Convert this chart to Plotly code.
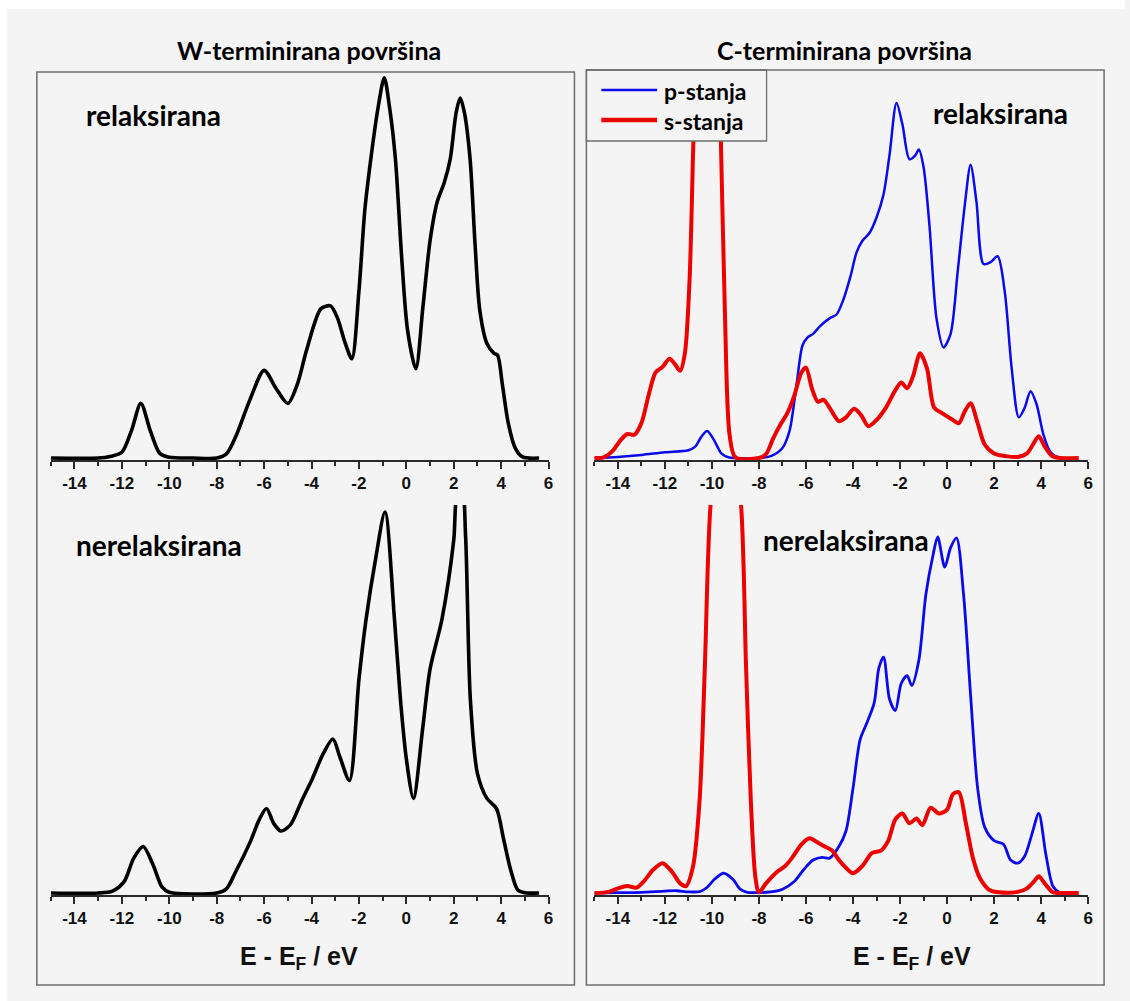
import plotly.graph_objects as go

W, H = 1130, 1001
BG = "#f4f4f4"

# ---------------- data (arbitrary DOS units) ----------------
# W-terminated, relaxed (total DOS)
w_rel_x = [-15, -13, -12.5, -12, -11.6, -11.2, -10.8, -10.4, -10, -9, -8, -7.6, -7.2, -6.6, -6.0, -5.5,
           -5.0, -4.6, -4.2, -3.6, -3.2, -2.9, -2.6, -2.3, -2.0, -1.75, -1.5, -1.2, -0.93, -0.7, -0.46,
           -0.2, 0.05, 0.4, 0.7, 1.0, 1.3, 1.6, 1.85, 2.1, 2.27, 2.45, 2.69, 2.9, 3.1, 3.4, 3.7, 3.85,
           4.05, 4.3, 4.6, 4.9, 5.6]
w_rel_y = [0, 0, 0.04, 0.15, 0.7, 1.41, 0.7, 0.12, 0.02, 0, 0, 0.1, 0.55, 1.5, 2.26, 1.8,
           1.41, 1.9, 2.8, 3.85, 3.92, 3.6, 3.0, 2.56, 4.3, 6.4, 7.7, 9.0, 9.8, 9.0, 7.7,
           5.2, 3.3, 2.3, 3.9, 5.6, 6.6, 7.1, 7.7, 8.9, 9.28, 8.9, 7.7, 5.5, 3.8, 2.95, 2.7, 2.65,
           1.9, 0.9, 0.25, 0.03, 0]

# W-terminated, unrelaxed
w_unr_x = [-15, -13, -12.4, -11.9, -11.5, -11.1, -10.7, -10.3, -10, -8, -7.6, -7.2, -6.6, -6.2, -5.9,
           -5.6, -5.3, -4.9, -4.4, -4.0, -3.5, -3.1, -2.8, -2.4, -2.0, -1.7, -1.3, -0.9, -0.5, -0.25,
           0.0, 0.3, 0.7, 1.0, 1.5, 2.0, 2.15, 2.35, 2.5, 2.7, 3.0, 3.4, 3.8, 4.1, 4.4, 4.7, 5.0, 5.6]
w_unr_y = [0, 0, 0.05, 0.3, 0.9, 1.2, 0.75, 0.15, 0.02, 0, 0.1, 0.55, 1.3, 1.9, 2.18,
           1.8, 1.6, 1.75, 2.4, 2.9, 3.6, 3.97, 3.5, 2.9, 5.5, 7.05, 8.6, 9.82, 7.05, 5.0,
           3.46, 2.44, 4.3, 5.77, 7.05, 9.1, 10.3, 10.4, 9.2, 5.0, 3.08, 2.44, 2.18, 1.4, 0.6, 0.08, 0.01, 0]

# C-terminated, relaxed
c_rel_p_x = [-15, -14, -13, -12, -11, -10.7, -10.45, -10.2, -9.9, -9.6, -9.3, -8, -7.5, -7.0, -6.7,
             -6.4, -6.15, -5.95, -5.7, -5.4, -5.0, -4.7, -4.4, -4.1, -3.85, -3.6, -3.3, -3.0, -2.7,
             -2.45, -2.15, -1.9, -1.6, -1.35, -1.2, -1.0, -0.75, -0.45, -0.15, 0.15, 0.45, 0.75, 1.0,
             1.25, 1.55, 1.85, 2.15, 2.45, 2.75, 3.05, 3.3, 3.55, 3.8, 4.1, 4.4, 4.7, 5.0]
c_rel_p_y = [0, 0.03, 0.08, 0.15, 0.2, 0.3, 0.55, 0.7, 0.45, 0.12, 0.02, 0, 0.05, 0.26, 0.7,
             1.9, 2.9, 3.1, 3.2, 3.4, 3.6, 3.7, 4.1, 4.7, 5.3, 5.6, 5.8, 6.2, 6.8,
             7.8, 9.15, 8.6, 7.7, 7.8, 7.95, 7.5, 6.0, 3.6, 2.85, 3.2, 4.8, 6.5, 7.56,
             6.6, 5.0, 5.05, 5.2, 4.3, 2.3, 1.05, 1.3, 1.72, 1.4, 0.6, 0.15, 0.02, 0]
c_rel_s_x = [-15, -14.6, -14.2, -13.9, -13.6, -13.3, -13.0, -12.7, -12.4, -12.1, -11.8, -11.55, -11.35,
             -11.15, -10.95, -10.8, -10.65, -10.2, -9.75, -9.62, -9.45, -9.25, -9.0, -8, -7.7, -7.4,
             -7.1, -6.8, -6.5, -6.2, -6.0, -5.75, -5.5, -5.25, -5.0, -4.6, -4.3, -3.95, -3.65, -3.35,
             -3.0, -2.6, -2.2, -1.95, -1.7, -1.45, -1.15, -0.85, -0.55, -0.2, 0.2, 0.5, 0.75, 1.0,
             1.3, 1.6, 2.0, 2.5, 3.0, 3.4, 3.7, 3.9, 4.15, 4.45, 4.8, 5.6]
c_rel_s_y = [0, 0.02, 0.2, 0.45, 0.62, 0.6, 0.9, 1.6, 2.2, 2.35, 2.56, 2.4, 2.25,
             2.7, 4.6, 7.9, 11, 14, 11, 8.2, 3.8, 0.6, 0.02, 0, 0.1, 0.5,
             0.85, 1.15, 1.6, 2.2, 2.33, 1.8, 1.45, 1.5, 1.3, 0.95, 1.05, 1.27, 1.1, 0.82,
             0.98, 1.3, 1.75, 1.95, 1.8, 2.1, 2.7, 2.3, 1.3, 1.15, 1.0, 0.9, 1.2, 1.41,
             0.9, 0.35, 0.12, 0.05, 0.03, 0.12, 0.4, 0.56, 0.3, 0.06, 0, 0]

# C-terminated, unrelaxed
c_unr_p_x = [-15, -14, -13, -12, -11.5, -11, -10.5, -10.2, -9.9, -9.5, -9.1, -8.8, -8.5, -7.5, -7.0,
             -6.5, -6.1, -5.7, -5.3, -5.0, -4.6, -4.3, -4.0, -3.7, -3.4, -3.1, -2.9, -2.7, -2.45,
             -2.2, -1.95, -1.7, -1.5, -1.2, -0.9, -0.6, -0.4, -0.1, 0.15, 0.4, 0.7, 1.0, 1.3, 1.6,
             2.0, 2.4, 2.7, 3.0, 3.3, 3.6, 3.9, 4.2, 4.5, 4.8, 5.0]
c_unr_p_y = [0, 0.01, 0.02, 0.05, 0.06, 0.03, 0.04, 0.15, 0.35, 0.51, 0.35, 0.1, 0.02, 0.03, 0.1,
             0.3, 0.6, 0.85, 0.92, 0.9, 1.2, 1.6, 2.7, 3.95, 4.4, 4.9, 5.8, 6.08, 5.0,
             4.7, 5.4, 5.6, 5.35, 6.0, 7.7, 8.7, 9.18, 8.4, 8.9, 9.15, 7.7, 5.1, 2.7, 1.7,
             1.35, 1.26, 0.85, 0.77, 0.95, 1.5, 2.05, 1.0, 0.18, 0.01, 0]
c_unr_s_x = [-15, -14.4, -14, -13.6, -13.2, -12.9, -12.5, -12.1, -11.7, -11.35, -11.1, -10.8, -10.52,
             -10.3, -10.07, -9.4, -8.75, -8.55, -8.35, -8.15, -8.0, -7.7, -7.2, -6.9, -6.6, -6.2,
             -5.85, -5.5, -5.2, -4.9, -4.6, -4.3, -4.0, -3.6, -3.2, -2.8, -2.5, -2.2, -1.9, -1.6,
             -1.3, -1.05, -0.7, -0.35, 0.0, 0.25, 0.5, 0.8, 1.1, 1.4, 1.8, 2.2, 3.0, 3.4, 3.7, 3.9,
             4.15, 4.5, 5.0, 5.6]
c_unr_s_y = [0, 0.03, 0.12, 0.18, 0.14, 0.3, 0.6, 0.77, 0.55, 0.25, 0.18, 0.7, 2.44,
             5.85, 9.9, 14, 9.9, 5.85, 2.44, 0.4, 0.02, 0.25, 0.56, 0.69, 0.9, 1.25,
             1.41, 1.3, 1.2, 1.1, 0.85, 0.65, 0.51, 0.7, 1.03, 1.1, 1.35, 1.9, 2.05, 1.8,
             1.92, 1.75, 2.2, 2.05, 2.15, 2.55, 2.6, 1.8, 0.9, 0.38, 0.08, 0.02, 0.03, 0.12, 0.3, 0.43,
             0.25, 0.02, 0, 0]

tick_vals = [-14, -12, -10, -8, -6, -4, -2, 0, 2, 4, 6]
tick_text = ["-14", "-12", "-10", "-8", "-6", "-4", "-2", "0", "2", "4", "6"]
x_range = [-15, 6]
y_range = [-0.05, 10]

panel_titles = ["W-terminirana površina", "C-terminirana površina"]
state_labels = ["relaksirana", "nerelaksirana"]
series_names = ["p-stanja", "s-stanja"]
x_title = "E - E<sub>F</sub> / eV"

BLACK = "#000000"
BLUE = "#0a0aec"
RED = "#ec0000"


def px(x):
    return x / W


def py(y):
    return 1 - y / H


fig = go.Figure()

SM = 0.8
fig.add_trace(go.Scatter(x=w_rel_x, y=w_rel_y, mode="lines", xaxis="x", yaxis="y", name="W relaksirana",
                         line=dict(color=BLACK, width=3.6, shape="spline", smoothing=SM), showlegend=False))
fig.add_trace(go.Scatter(x=c_rel_p_x, y=c_rel_p_y, mode="lines", xaxis="x2", yaxis="y2", name=series_names[0],
                         line=dict(color=BLUE, width=2.5, shape="spline", smoothing=SM), showlegend=False))
fig.add_trace(go.Scatter(x=c_rel_s_x, y=c_rel_s_y, mode="lines", xaxis="x2", yaxis="y2", name=series_names[1],
                         line=dict(color=RED, width=4, shape="spline", smoothing=SM), showlegend=False))
fig.add_trace(go.Scatter(x=w_unr_x, y=w_unr_y, mode="lines", xaxis="x3", yaxis="y3", name="W nerelaksirana",
                         line=dict(color=BLACK, width=3.6, shape="spline", smoothing=SM), showlegend=False))
fig.add_trace(go.Scatter(x=c_unr_p_x, y=c_unr_p_y, mode="lines", xaxis="x4", yaxis="y4", name=series_names[0],
                         line=dict(color=BLUE, width=2.8, shape="spline", smoothing=SM), showlegend=False))
fig.add_trace(go.Scatter(x=c_unr_s_x, y=c_unr_s_y, mode="lines", xaxis="x4", yaxis="y4", name=series_names[1],
                         line=dict(color=RED, width=4, shape="spline", smoothing=SM), showlegend=False))

left_dom = [px(51), px(551)]
right_dom = [px(597), px(1093)]
top_dom = [py(460), py(70)]
bot_dom = [py(895), py(505)]

AX_COL = "#2a2a2a"


def xaxis(dom, anchor):
    return dict(domain=dom, anchor=anchor, range=x_range, showline=True, linecolor=AX_COL, linewidth=1.5,
                ticks="outside", ticklen=7, tickwidth=1.5, tickcolor=AX_COL,
                tickvals=tick_vals, ticktext=tick_text,
                minor=dict(ticks="outside", ticklen=4, tickwidth=1.5, tickcolor=AX_COL, dtick=1, tick0=-15,
                           showgrid=False),
                showgrid=False, zeroline=False,
                tickfont=dict(family="Liberation Sans", size=17, color="#111111", weight="bold"))


def yaxis(dom, anchor):
    return dict(domain=dom, anchor=anchor, range=y_range, visible=False, showgrid=False, zeroline=False)


annotations = []
TXT_FONT = "Lato"
for txt, xx in [(panel_titles[0], 310), (panel_titles[1], 848)]:
    annotations.append(dict(text=txt, x=px(xx), y=py(50), xref="paper", yref="paper",
                            showarrow=False, xanchor="center", yanchor="middle",
                            font=dict(family=TXT_FONT, size=25, color="#000", weight="bold")))
for (txt, xx, yy) in [(state_labels[0], 154, 115), (state_labels[0], 1005, 113),
                      (state_labels[1], 160, 545), (state_labels[1], 850, 540)]:
    annotations.append(dict(text=txt, x=px(xx), y=py(yy), xref="paper", yref="paper", showarrow=False,
                            xanchor="center", yanchor="middle",
                            font=dict(family=TXT_FONT, size=28, color="#000", weight="bold")))
for xx in [300, 916]:
    annotations.append(dict(text=x_title, x=px(xx), y=py(958), xref="paper", yref="paper", showarrow=False,
                            xanchor="center", yanchor="middle",
                            font=dict(family="Liberation Sans", size=25, color="#111", weight="bold")))

# legend (drawn as a boxed key in the top-left corner of the C-terminated panel)
LEG_FS = 23
leg_mid = 105
leg_gap = LEG_FS * 1.3
leg_rows = [(BLUE, 2.5, leg_mid - leg_gap / 2), (RED, 4.5, leg_mid + leg_gap / 2)]
shapes = [
    dict(type="rect", xref="paper", yref="paper", x0=0, x1=1, y0=py(9), y1=1,
         fillcolor="white", line=dict(width=0), layer="below"),
    dict(type="rect", xref="paper", yref="paper", x0=0, x1=px(7), y0=0, y1=1,
         fillcolor="white", line=dict(width=0), layer="below"),
    dict(type="rect", xref="paper", yref="paper", x0=px(37), x1=px(577), y0=py(985), y1=py(72),
         line=dict(color="#6e6e6e", width=1.5), fillcolor="rgba(0,0,0,0)"),
    dict(type="rect", xref="paper", yref="paper", x0=px(589), x1=px(770), y0=py(141), y1=py(70),
         line=dict(color="#6e6e6e", width=1.3), fillcolor=BG, layer="above"),
    dict(type="rect", xref="paper", yref="paper", x0=px(589), x1=px(1109), y0=py(985), y1=py(70),
         line=dict(color="#6e6e6e", width=1.5), fillcolor="rgba(0,0,0,0)", layer="above"),
]
for col, lw, yy in leg_rows:
    shapes.append(dict(type="line", xref="paper", yref="paper", x0=px(604), x1=px(660), y0=py(yy), y1=py(yy),
                       line=dict(color=col, width=lw), layer="above"))
annotations.append(dict(text="<br>".join(series_names), x=px(665), y=py(leg_mid + 1), xref="paper", yref="paper",
                        showarrow=False, xanchor="left", yanchor="middle", align="left",
                        font=dict(family=TXT_FONT, size=LEG_FS, color="#000", weight="bold")))

fig.update_layout(
    width=W, height=H, margin=dict(l=0, r=0, t=0, b=0),
    paper_bgcolor=BG, plot_bgcolor="rgba(0,0,0,0)",
    xaxis=xaxis(left_dom, "y"), yaxis=yaxis(top_dom, "x"),
    xaxis2=xaxis(right_dom, "y2"), yaxis2=yaxis(top_dom, "x2"),
    xaxis3=xaxis(left_dom, "y3"), yaxis3=yaxis(bot_dom, "x3"),
    xaxis4=xaxis(right_dom, "y4"), yaxis4=yaxis(bot_dom, "x4"),
    annotations=annotations, shapes=shapes,
    showlegend=False,
)

fig.write_html("out.html")
